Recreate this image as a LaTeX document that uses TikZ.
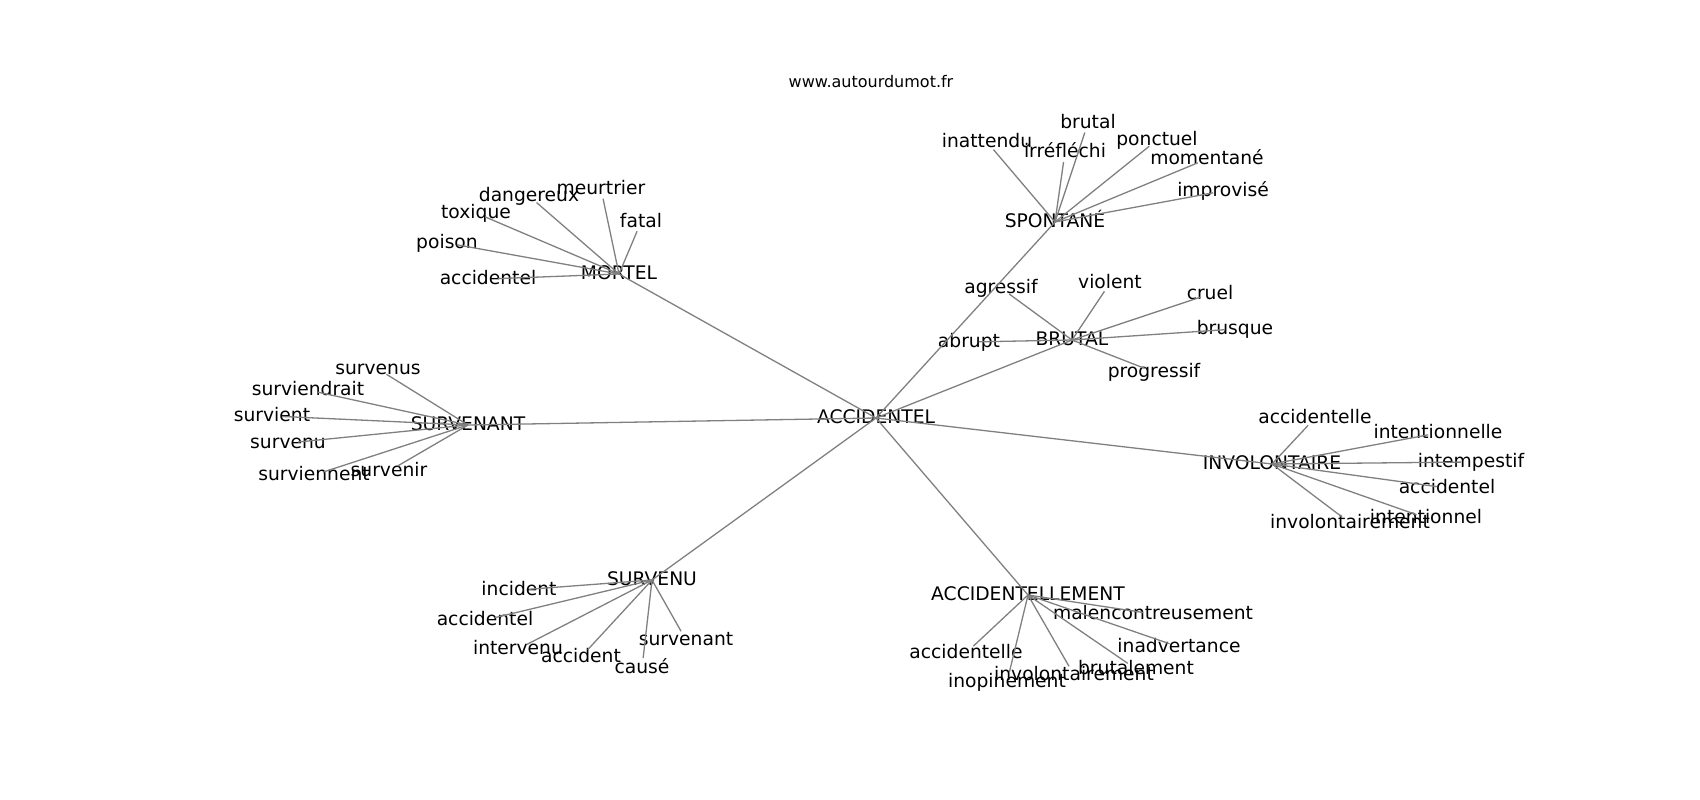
\documentclass[tikz,border=0pt]{standalone}
\usepackage{fontspec}
\setmainfont{DejaVu Sans}
\tikzset{
  lbl/.style={font=\fontsize{18.7}{22}\selectfont, inner sep=0pt, text height=1.3em, text depth=0.15em, anchor=center},
  ttl/.style={font=\fontsize{16}{19}\selectfont, inner sep=0pt, text height=1.3em, text depth=0.15em, anchor=center},
  link/.style={draw={rgb,255:red,128;green,128;blue,128}, line width=1.3pt},
  leaflink/.style={link, shorten >=10pt}
}
\begin{document}
\begin{tikzpicture}[x=1pt, y=-1pt]
\useasboundingbox (0,0) rectangle (1700,800);
\node[ttl] (title) at (871,82) {www.autourdumot.fr};
% hubs
\node[lbl] (A) at (876,418) {ACCIDENTEL};
\node[lbl] (M) at (619,274) {MORTEL};
\node[lbl] (S) at (1055,222) {SPONTANÉ};
\node[lbl] (B) at (1072,340) {BRUTAL};
\node[lbl] (SV) at (468,425) {SURVENANT};
\node[lbl] (I) at (1272,464) {INVOLONTAIRE};
\node[lbl] (U) at (652,580) {SURVENU};
\node[lbl] (AL) at (1028,595) {ACCIDENTELLEMENT};
% MORTEL leaves
\node[lbl] (m1) at (601,189) {meurtrier};
\node[lbl] (m2) at (529,196) {dangereux};
\node[lbl] (m3) at (641,222) {fatal};
\node[lbl] (m4) at (476,213) {toxique};
\node[lbl] (m5) at (447,243) {poison};
\node[lbl] (m6) at (488,279) {accidentel};
% SPONTANE leaves
\node[lbl] (s1) at (1088,123) {brutal};
\node[lbl] (s2) at (987,142) {inattendu};
\node[lbl] (s3) at (1065,152) {irréfléchi};
\node[lbl] (s4) at (1157,140) {ponctuel};
\node[lbl] (s5) at (1207,159) {momentané};
\node[lbl] (s6) at (1223,191) {improvisé};
% BRUTAL leaves
\node[lbl] (b1) at (1001,288) {agressif};
\node[lbl] (b2) at (1110,283) {violent};
\node[lbl] (b3) at (969,342) {abrupt};
\node[lbl] (b4) at (1210,294) {cruel};
\node[lbl] (b5) at (1235,329) {brusque};
\node[lbl] (b6) at (1154,372) {progressif};
% SURVENANT leaves
\node[lbl] (v1) at (378,369) {survenus};
\node[lbl] (v2) at (308,390) {surviendrait};
\node[lbl] (v3) at (272,416) {survient};
\node[lbl] (v4) at (288,443) {survenu};
\node[lbl] (v5) at (314,475) {surviennent};
\node[lbl] (v6) at (389,471) {survenir};
% INVOLONTAIRE leaves
\node[lbl] (i1) at (1315,418) {accidentelle};
\node[lbl] (i2) at (1438,433) {intentionnelle};
\node[lbl] (i3) at (1471,462) {intempestif};
\node[lbl] (i4) at (1447,488) {accidentel};
\node[lbl] (i5) at (1426,518) {intentionnel};
\node[lbl] (i6) at (1350,523) {involontairement};
% SURVENU leaves
\node[lbl] (u1) at (519,590) {incident};
\node[lbl] (u2) at (485,620) {accidentel};
\node[lbl] (u3) at (518,649) {intervenu};
\node[lbl] (u4) at (581,657) {accident};
\node[lbl] (u5) at (642,668) {causé};
\node[lbl] (u6) at (686,640) {survenant};
% ACCIDENTELLEMENT leaves
\node[lbl] (a1) at (1153,614) {malencontreusement};
\node[lbl] (a2) at (1179,647) {inadvertance};
\node[lbl] (a3) at (966,653) {accidentelle};
\node[lbl] (a4) at (1007,682) {inopinement};
\node[lbl] (a5) at (1074,675) {involontairement};
\node[lbl] (a6) at (1136,669) {brutalement};
% hub links
\foreach \h in {M,S,B,SV,I,U,AL} \draw[link] (A.center) -- (\h.center);
% leaf links
\foreach \l in {m1,m2,m3,m4,m5,m6} \draw[leaflink] (M.center) -- (\l.center);
\foreach \l in {s1,s2,s3,s4,s5,s6} \draw[leaflink] (S.center) -- (\l.center);
\foreach \l in {b1,b2,b3,b4,b5,b6} \draw[leaflink] (B.center) -- (\l.center);
\foreach \l in {v1,v2,v3,v4,v5,v6} \draw[leaflink] (SV.center) -- (\l.center);
\foreach \l in {i1,i2,i3,i4,i5,i6} \draw[leaflink] (I.center) -- (\l.center);
\foreach \l in {u1,u2,u3,u4,u5,u6} \draw[leaflink] (U.center) -- (\l.center);
\foreach \l in {a1,a2,a3,a4,a5,a6} \draw[leaflink] (AL.center) -- (\l.center);
\end{tikzpicture}
\end{document}
